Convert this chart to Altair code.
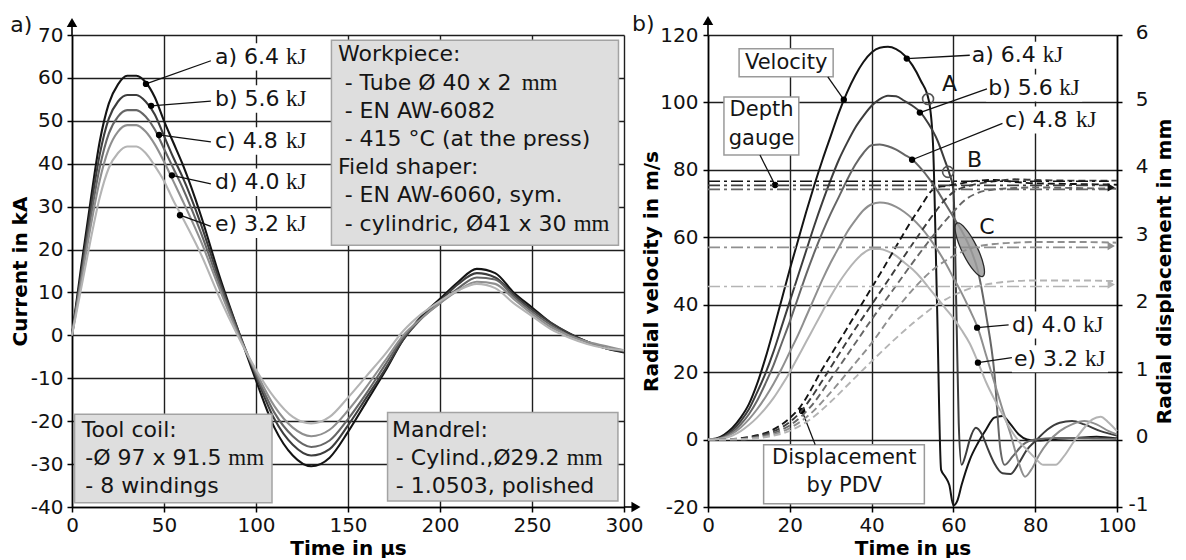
import altair as alt
import pandas as pd

FONT = "DejaVu Sans"
SERIF = "Liberation Serif"
SERIES = ["a", "b", "c", "d", "e"]
GREYS = ["#141414", "#3d3d3d", "#666666", "#8f8f8f", "#b4b4b4"]

# ---------------- panel a) : coil current (kA) vs time (us) ----------------
t_cur = [0, 5, 10, 15, 20, 25, 30, 35, 40, 45, 50, 55, 60, 70, 80, 90, 100, 110, 120, 130,
         140, 150, 160, 170, 180, 190, 200, 210, 220, 230, 240, 250, 260, 270, 280, 290, 300]
cur_a = [0, 16, 31, 45, 54, 58.5, 60.5, 60.5, 59, 55.5, 50, 45, 40, 28, 14, 1.5, -10.5, -21.5, -28, -30.5,
         -28.5, -22.5, -15.5, -8.5, -1, 4.5, 8.5, 12.5, 15.5, 14.5, 10, 6.5, 3, 0.5, -1.5, -3, -4]
cur_b = [0, 14.5, 29, 42, 50.5, 54.5, 56, 56, 54.5, 51.5, 46.5, 41.5, 37, 26, 13, 1.5, -9.5, -19.5, -25.5, -28,
         -26.5, -21, -14.5, -8, -1, 4, 8, 12, 14.5, 13.5, 9.5, 6, 3, 0.5, -1.5, -3, -3.8]
cur_c = [0, 13.5, 27, 39, 47, 51, 52.5, 52.5, 51, 48, 43.5, 39, 34.5, 24, 12, 1, -9, -18, -23.5, -26,
         -24.5, -19.5, -13.5, -7, -0.5, 4, 7.5, 11, 13.5, 13, 9, 5.5, 2.5, 0, -1.5, -3, -3.5]
cur_d = [0, 12.5, 25, 36, 43.5, 47.5, 49, 49, 47.5, 44.5, 40.5, 36, 31.5, 22, 11, 0.5, -8.5, -16.5, -21.5, -23.5,
         -22, -17.5, -12, -6, 0, 4, 7.5, 10.5, 12.5, 12, 8.5, 5, 2, 0, -1.5, -2.5, -3.5]
cur_e = [0, 11, 22, 32, 39, 42.5, 44, 44, 42.5, 39.5, 36, 31.5, 27.5, 19, 9, 0, -8, -14.5, -19, -20.5,
         -19, -14.5, -9.5, -4.5, 1, 5, 8, 10.5, 12, 11, 7.5, 4.5, 1.5, -0.5, -2, -3, -3.5]
CUR = {"a": cur_a, "b": cur_b, "c": cur_c, "d": cur_d, "e": cur_e}
ENERGY = ["a) 6.4", "b) 5.6", "c) 4.8", "d) 4.0", "e) 3.2"]
UNIT = ["kJ"] * 5

# ---------------- panel b) : radial velocity (m/s) ----------------
va_t = [0, 2, 4, 6, 8, 10, 12, 14, 16, 18, 20, 22, 24, 26, 28, 30, 32, 34, 36, 38, 40, 42, 44, 46, 48, 50, 52, 54,
        55, 56, 57, 58, 59, 60, 61, 62, 64, 66, 68, 70, 72, 74, 76, 78, 80, 85, 90, 95, 100]
va_v = [0, 0.3, 1.5, 3.5, 6.5, 10.5, 16.5, 24, 32.5, 41.5, 50.5, 59, 67.5, 75.5, 83, 90, 97, 103, 108, 112,
        114.8, 116.2, 116.5, 115.8, 114, 111, 106.5, 100.5,
        88, 40, -9, -11, -13.5, -19.5, -18, -13.5, -6, -1, 3, 6.5, 7, 4.5, 1.5, 0, -0.3, 0.2, 0.5, 0.8, 0.3]
vb_t = [0, 2, 4, 6, 8, 10, 12, 14, 16, 18, 20, 22, 24, 26, 28, 30, 32, 34, 36, 38, 40, 42, 44, 46, 48, 50, 52, 54,
        56, 58, 59, 60, 60.7, 61.3, 62, 63, 64, 65.5, 67, 68.5, 70, 72, 74, 76, 78, 80, 83, 86, 89, 92, 96, 100]
vb_v = [0, 0.2, 1, 2.8, 5.5, 9, 14, 19.5, 26, 33.5, 41, 48.5, 56, 63.5, 70.5, 77, 83, 88, 92.5, 96, 99, 101,
        102, 101.8, 100.5, 99, 97, 93.5, 89, 82.5,
        79, 74, 40, 5, -7.5, -4.5, 0, 3.5, 1.5, -3, -7, -10, -10.2, -7, -3, -0.5, 3, 5, 5.5, 4.5, 2.5, 1.2]
vc_t = [0, 2, 4, 6, 8, 10, 12, 14, 16, 18, 20, 22, 24, 26, 28, 30, 32, 34, 36, 38, 40, 42, 44, 46, 48, 50, 52, 54,
        56, 58, 60, 62, 64, 66, 68, 70, 71.5, 72.5, 74.5, 77, 80, 85, 90, 95, 100]
vc_v = [0, 0.2, 0.8, 2.2, 4.5, 7.5, 11.5, 16.5, 22, 28.5, 35, 42, 49, 55.5, 61.5, 67, 72, 77, 81.5, 85, 87.3,
        87.5, 87, 86, 84.5, 83, 80.5, 77.5, 74, 70, 66, 62, 57, 50, 37, 20,
        -3, -7.5, -5, -1.5, 0, 0.5, 0.5, 0.3, 0.2]
vd_t = [0, 2, 4, 6, 8, 10, 12, 14, 16, 18, 20, 22, 24, 26, 28, 30, 32, 34, 36, 38, 40, 42, 44, 46, 48, 50, 52, 54,
        56, 58, 60, 62, 64, 66, 68, 70, 72, 74, 76, 77.5, 79, 81, 83, 86, 89, 92, 95, 98, 100]
vd_v = [0, 0.1, 0.6, 1.8, 3.6, 6, 9, 12.5, 16.5, 21, 26, 31, 36.5, 42, 47.5, 52.5, 57, 61.5, 65, 68,
        69.8, 70.3, 70, 69, 67.5, 65.5, 63, 60, 56.5, 52.5, 48, 43.5, 38.5, 33, 25, 17, 9, 1.5, -7,
        -11, -9, -4.5, -1, 2.5, 4.5, 5.5, 4.5, 2.5, 1.5]
ve_t = [0, 2, 4, 6, 8, 10, 12, 14, 16, 18, 20, 22, 24, 26, 28, 30, 32, 34, 36, 38, 40, 42, 44, 46, 48, 50, 52, 54,
        56, 58, 60, 62, 64, 66, 68, 70, 72, 74, 76, 78, 80, 82, 85, 87, 89.5, 92, 94, 96, 98, 100]
ve_v = [0, 0.1, 0.4, 1.2, 2.5, 4.3, 6.5, 9.2, 12.3, 16, 20, 24.5, 29, 33.5, 38, 42.5, 46.5, 50, 53, 55.3,
        56.5, 56.5, 55.8, 54.5, 52.5, 50.5, 48, 45, 42, 39, 36, 32.5, 28.5, 23, 17, 12, 7.5, 3, -0.5,
        -3, -5.5, -7.5, -7.5, -5, -0.5, 3.5, 6, 6.8, 5, 2.5]
VEL_T = {"a": va_t, "b": vb_t, "c": vc_t, "d": vd_t, "e": ve_t}
VEL_V = {"a": va_v, "b": vb_v, "c": vc_v, "d": vd_v, "e": ve_v}

# ---------------- panel b) : radial displacement by PDV (mm) ----------------
da_t = [0, 5, 10, 15, 20, 22.5, 25, 27.5, 30, 32.5, 35, 37.5, 40, 42.5, 45, 47.5, 50, 52.5, 54.5, 56, 58, 62, 66,
        70, 75, 80, 90, 100]
da_d = [0, 0.005, 0.04, 0.12, 0.32, 0.48, 0.72, 1.0, 1.25, 1.5, 1.75, 2.0, 2.25, 2.5, 2.76, 3.02, 3.27, 3.5, 3.68,
        3.74, 3.76, 3.8, 3.84, 3.85, 3.82, 3.8, 3.79, 3.78]
db_t = [0, 5, 10, 15, 20, 22.5, 25, 27.5, 30, 35, 40, 45, 50, 55, 58, 60, 62, 65, 70, 75, 80, 90, 100]
db_d = [0, 0.004, 0.03, 0.1, 0.26, 0.4, 0.6, 0.83, 1.07, 1.55, 2.0, 2.45, 2.9, 3.33, 3.56, 3.67, 3.73, 3.78, 3.83,
        3.86, 3.85, 3.84, 3.84]
dc_t = [0, 5, 10, 15, 20, 25, 30, 35, 40, 45, 50, 55, 60, 63, 66, 70, 75, 80, 90, 100]
dc_d = [0, 0.003, 0.02, 0.08, 0.21, 0.48, 0.9, 1.34, 1.78, 2.2, 2.62, 3.02, 3.38, 3.56, 3.66, 3.71, 3.73, 3.74,
        3.73, 3.72]
dd_t = [0, 5, 10, 15, 20, 25, 30, 35, 40, 45, 50, 55, 60, 65, 70, 75, 80, 90, 100]
dd_d = [0, 0.002, 0.015, 0.06, 0.17, 0.38, 0.7, 1.06, 1.43, 1.85, 2.22, 2.52, 2.72, 2.85, 2.9, 2.92, 2.93, 2.93, 2.92]
de_t = [0, 5, 10, 15, 20, 25, 30, 35, 40, 45, 50, 55, 60, 65, 70, 75, 80, 90, 100]
de_d = [0, 0.002, 0.01, 0.045, 0.13, 0.3, 0.56, 0.86, 1.16, 1.45, 1.72, 1.96, 2.14, 2.26, 2.32, 2.35, 2.36, 2.36, 2.35]
DIS_T = {"a": da_t, "b": db_t, "c": dc_t, "d": dd_t, "e": de_t}
DIS_D = {"a": da_d, "b": db_d, "c": dc_d, "d": dd_d, "e": de_d}

# depth gauge final displacement (mm)
gauge_mm = [3.83, 3.77, 3.71, 2.85, 2.27]

# ---------------- text metrics (DejaVu Sans advance widths, em) ----------------
W = {" ": .318, "-": .361, ".": .318, ",": .318, "Ø": .787, "x": .592, "T": .611, "u": .634,
     "b": .635, "e": .615, "C": .698, "y": .592, "l": .278, "i": .278, "n": .634, "d": .635,
     "c": .550, "r": .411, "a": .613, ")": .390}
for ch in "0123456789":
    W[ch] = .636


def text_w(s, size):
    return sum(W.get(ch, 0.6) for ch in s) * size


def long_df(tdict, vdict, col):
    rows = []
    for s in SERIES:
        for i, (t, v) in enumerate(zip(tdict[s], vdict[s])):
            rows.append({"s": s, "i": i, "t": t, col: v})
    return pd.DataFrame(rows)


COLOR = alt.Color("s:N", scale=alt.Scale(domain=SERIES, range=GREYS), legend=None)
HYPHEN = "'' + datum.value"
LFS = 22   # annotation font size
BFS = 22   # box font size
TXT = dict(baseline="middle", font=FONT, fontSize=LFS, color="#151515")
KJ_DX = round(text_w("a) 6.4 ", LFS))

# ======================= LEFT PANEL =======================
sx1 = alt.Scale(domain=[0, 300], nice=False, zero=False)
sy1 = alt.Scale(domain=[-40, 70], nice=False, zero=False)
X1 = alt.X("t:Q", scale=sx1, axis=alt.Axis(values=list(range(0, 301, 50)), title="Time in µs",
                                           titlePadding=3, labelPadding=3))
Y1 = alt.Y("v:Q", scale=sy1, axis=alt.Axis(values=list(range(-40, 71, 10)), title="Current in kA",
                                           titlePadding=0, labelPadding=4, labelExpr=HYPHEN))

cur_df = long_df({s: t_cur for s in SERIES}, CUR, "v")
cur_lines = alt.Chart(cur_df).mark_line(strokeWidth=2.1, interpolate="monotone").encode(
    x=X1, y=Y1, color=COLOR, order="i:Q")

box1 = pd.DataFrame({"t": [141, 1.4, 171.5], "t2": [297, 108.7, 296.7],
                     "v": [68.8, -18.4, -18.0], "v2": [21.0, -39.0, -38.6]})
box1_l = alt.Chart(box1).mark_rect(fill="#dedede", stroke="#a3a3a3", strokeWidth=1.5).encode(
    x=X1, x2=alt.X2("t2"), y=Y1, y2=alt.Y2("v2"))

# (sans text, serif unit) per line
wp_lines = [("Workpiece:", ""), ("- Tube Ø 40 x 2 ", "mm"), ("- EN AW-6082", ""),
            ("- 415 °C (at the press)", ""), ("Field shaper:", ""), ("- EN AW-6060, sym.", ""),
            ("- cylindric, Ø41 x 30 ", "mm")]
wp_t = [144.6, 148.2, 148.2, 148.2, 144.6, 148.2, 148.2]
wp_v = [65.6, 58.7, 52.3, 45.8, 39.2, 32.6, 26.0]
tc_lines = [("Tool coil:", ""), ("-Ø 97 x 91.5 ", "mm"), ("- 8 windings", "")]
tc_t = [5.3, 7.2, 7.2]
md_lines = [("Mandrel:", ""), ("- Cylind.,Ø29.2 ", "mm"), ("- 1.0503, polished", "")]
md_t = [173.9, 176.0, 176.0]
low_v = [-22.0, -28.6, -35.2]
all_lines = wp_lines + tc_lines + md_lines
box1_text = pd.DataFrame({"t": wp_t + tc_t + md_t, "v": wp_v + low_v + low_v,
                          "label": [a for a, b in all_lines]})
box1_t = alt.Chart(box1_text).mark_text(align="left", baseline="middle", font=FONT, fontSize=BFS,
                                        color="#151515").encode(x=X1, y=Y1, text="label:N")
unit_layers = []
for (a, b), t, v in zip(all_lines, wp_t + tc_t + md_t, wp_v + low_v + low_v):
    if b:
        unit_layers.append(
            alt.Chart(pd.DataFrame({"t": [t], "v": [v], "label": [b]})).mark_text(
                align="left", baseline="middle", font=SERIF, fontSize=BFS + 1, color="#151515",
                dx=round(text_w(a, BFS))).encode(x=X1, y=Y1, text="label:N"))

lab1_v = [64.9, 55.1, 45.3, 35.7, 25.9]
lab1 = pd.DataFrame({"t": [77.7] * 5, "v": lab1_v, "label": ENERGY, "unit": UNIT,
                     "t2": [128.0] * 5, "vb": [v - 3.2 for v in lab1_v], "vt": [v + 3.2 for v in lab1_v],
                     "dt": [40.2, 43.0, 47.3, 54.3, 58.7], "dv": [58.6, 53.5, 46.7, 37.3, 28.0],
                     "et": [75.5] * 5, "ev": [64.0, 54.6, 45.1, 35.3, 25.4]})
lab1_bg = alt.Chart(lab1).mark_rect(fill="white").encode(
    x=alt.X("t:Q", scale=sx1), x2=alt.X2("t2"), y=alt.Y("vb:Q", scale=sy1), y2=alt.Y2("vt"))
lab1_rule = alt.Chart(lab1).mark_rule(color="#111", strokeWidth=1.3).encode(
    x=alt.X("dt:Q", scale=sx1), x2=alt.X2("et"), y=alt.Y("dv:Q", scale=sy1), y2=alt.Y2("ev"))
lab1_dot = alt.Chart(lab1).mark_point(filled=True, color="#000", size=40, opacity=1).encode(
    x=alt.X("dt:Q", scale=sx1), y=alt.Y("dv:Q", scale=sy1))
lab1_txt = alt.Chart(lab1).mark_text(align="left", **TXT).encode(x=X1, y=Y1, text="label:N")
lab1_kj = alt.Chart(lab1).mark_text(align="left", baseline="middle", font=SERIF, fontSize=LFS + 1,
                                    color="#151515", dx=KJ_DX).encode(x=X1, y=Y1, text="unit:N")

# axis arrows + panel letter
arr1 = pd.DataFrame({"t": [0, 306.5], "v": [72.9, -40], "shape": ["triangle-up", "triangle-right"]})
arr1_l = alt.Chart(arr1).mark_point(filled=True, color="#000", size=110, opacity=1).encode(
    x=X1, y=Y1, shape=alt.Shape("shape:N", scale=None))
ext1 = pd.DataFrame({"t": [0, 300], "t2": [0, 305], "v": [70, -40], "v2": [72, -40]})
ext1_l = alt.Chart(ext1).mark_rule(color="#000", strokeWidth=1.6).encode(
    x=X1, x2=alt.X2("t2"), y=Y1, y2=alt.Y2("v2"))
let1 = alt.Chart(pd.DataFrame({"t": [-33.5], "v": [72.3], "label": ["a)"]})).mark_text(
    align="left", **TXT).encode(x=X1, y=Y1, text="label:N")

left = alt.layer(cur_lines, box1_l, box1_t, *unit_layers, lab1_bg, lab1_rule, lab1_dot, lab1_txt,
                 lab1_kj, ext1_l, arr1_l, let1).properties(width=552, height=472)

# ======================= RIGHT PANEL =======================
sx2 = alt.Scale(domain=[0, 100], nice=False, zero=False)
sy2 = alt.Scale(domain=[-20, 120], nice=False, zero=False)
sy3 = alt.Scale(domain=[-1, 6], nice=False, zero=False)
X2 = alt.X("t:Q", scale=sx2, axis=alt.Axis(values=list(range(0, 101, 20)), title="Time in µs",
                                           titlePadding=3, labelPadding=3))
Y2 = alt.Y("v:Q", scale=sy2, axis=alt.Axis(values=list(range(-20, 121, 10)), title="Radial velocity  in m/s",
                                           titlePadding=-2, labelPadding=5, labelExpr=HYPHEN))
Y3 = alt.Y("d:Q", scale=sy3, axis=alt.Axis(values=list(range(-1, 7)), orient="right", grid=False,
                                           title="Radial displacement in mm", titleAngle=270,
                                           titleBaseline="top", labelAlign="right", labelPadding=26,
                                           labelOffset=-3, titlePadding=6, labelExpr=HYPHEN))

vel_df = long_df(VEL_T, VEL_V, "v")
vel_lines = alt.Chart(vel_df).mark_line(strokeWidth=2, interpolate="monotone").encode(
    x=X2, y=Y2, color=COLOR, order="i:Q")

box2 = pd.DataFrame({"t": [7.6, 3.9, 13.6], "t2": [30.6, 22.2, 52.9], "v": [107.6, 84.4, -1.5],
                     "v2": [115.9, 101.6, -19.0]})
box2_l = alt.Chart(box2).mark_rect(fill="white", stroke="#9a9a9a", strokeWidth=1.5).encode(
    x=X2, x2=alt.X2("t2"), y=Y2, y2=alt.Y2("v2"))
box2_text = pd.DataFrame({"t": [19.1, 13.1, 13.1, 33.3, 33.3], "v": [111.7, 97.8, 89.2, -5.6, -13.9],
                          "label": ["Velocity", "Depth", "gauge", "Displacement", "by PDV"]})
box2_t = alt.Chart(box2_text).mark_text(align="center", baseline="middle", font=FONT, fontSize=21,
                                        color="#151515").encode(x=X2, y=Y2, text="label:N")

ptr2 = pd.DataFrame({"t": [29.3, 12.7, 26.2], "v": [107.6, 84.4, -1.5],
                     "t2": [33.2, 16.4, 23.0], "v2": [100.8, 75.5, 8.5]})
ptr2_rule = alt.Chart(ptr2).mark_rule(color="#111", strokeWidth=1.3).encode(
    x=X2, x2=alt.X2("t2"), y=Y2, y2=alt.Y2("v2"))
ptr2_dot = alt.Chart(ptr2).mark_point(filled=True, color="#000", size=40, opacity=1).encode(
    x=alt.X("t2:Q", scale=sx2), y=alt.Y("v2:Q", scale=sy2))

lab2_t = [64.5, 68.5, 72.6, 74.3, 74.8]
lab2_v = [114.0, 104.3, 94.8, 34.0, 24.0]
lab2 = pd.DataFrame({"t": lab2_t, "v": lab2_v, "label": ENERGY, "unit": UNIT,
                     "bt": [t - 0.5 for t in lab2_t], "bt2": [t + 23.0 for t in lab2_t],
                     "vb": [v - 4.0 for v in lab2_v], "vt": [v + 4.0 for v in lab2_v],
                     "dt": [48.6, 51.8, 49.9, 65.8, 66.0], "dv": [113.0, 97.0, 83.0, 33.2, 22.8],
                     "et": [64.0, 68.2, 72.0, 73.5, 74.3], "ev": [114.0, 104.0, 93.8, 34.0, 24.3]})
lab2_bg = alt.Chart(lab2).mark_rect(fill="white").encode(
    x=alt.X("bt:Q", scale=sx2), x2=alt.X2("bt2"), y=alt.Y("vb:Q", scale=sy2), y2=alt.Y2("vt"))
lab2_rule = alt.Chart(lab2).mark_rule(color="#111", strokeWidth=1.3).encode(
    x=alt.X("dt:Q", scale=sx2), x2=alt.X2("et"), y=alt.Y("dv:Q", scale=sy2), y2=alt.Y2("ev"))
lab2_dot = alt.Chart(lab2).mark_point(filled=True, color="#000", size=40, opacity=1).encode(
    x=alt.X("dt:Q", scale=sx2), y=alt.Y("dv:Q", scale=sy2))
lab2_txt = alt.Chart(lab2).mark_text(align="left", **TXT).encode(x=X2, y=Y2, text="label:N")
lab2_kj = alt.Chart(lab2).mark_text(align="left", baseline="middle", font=SERIF, fontSize=LFS + 1,
                                    color="#151515", dx=KJ_DX).encode(x=X2, y=Y2, text="unit:N")

circ = pd.DataFrame({"t": [53.8, 58.7], "v": [101.0, 79.4]})
circ_l = alt.Chart(circ).mark_point(shape="circle", filled=False, color="#555", size=120,
                                    strokeWidth=1.6, opacity=1).encode(x=X2, y=Y2)
abc = pd.DataFrame({"t": [57.2, 63.3, 66.3], "v": [105.5, 83.0, 63.0], "label": ["A", "B", "C"]})
abc_t = alt.Chart(abc).mark_text(align="left", **TXT).encode(x=X2, y=Y2, text="label:N")

ELLIPSE = "M0,-1 A0.26,1 0 1,1 0,1 A0.26,1 0 1,1 0,-1 Z"
ell = alt.Chart(pd.DataFrame({"t": [64.0], "v": [56.3]})).mark_point(
    shape=ELLIPSE, size=3500, angle=334, filled=True, fill="#9c9c9c", fillOpacity=0.85,
    stroke="#2a2a2a", strokeWidth=1.3, opacity=1).encode(x=X2, y=Y2)

ext2 = pd.DataFrame({"t": [0], "t2": [0], "v": [120], "v2": [123]})
ext2_l = alt.Chart(ext2).mark_rule(color="#000", strokeWidth=1.6).encode(
    x=X2, x2=alt.X2("t2"), y=Y2, y2=alt.Y2("v2"))
arr2_l = alt.Chart(pd.DataFrame({"t": [0], "v": [124.3]})).mark_point(
    shape="triangle-up", filled=True, color="#000", size=110, opacity=1).encode(x=X2, y=Y2)
let2 = alt.Chart(pd.DataFrame({"t": [-18.6], "v": [123.3], "label": ["b)"]})).mark_text(
    align="left", **TXT).encode(x=X2, y=Y2, text="label:N")

group_v = alt.layer(vel_lines, box2_l, box2_t, ptr2_rule, ptr2_dot, lab2_bg, lab2_rule, lab2_dot,
                    lab2_txt, lab2_kj, circ_l, abc_t, ell, ext2_l, arr2_l, let2)

dis_df = long_df(DIS_T, DIS_D, "d")
dis_lines = alt.Chart(dis_df).mark_line(strokeWidth=1.9, strokeDash=[7, 4], interpolate="monotone").encode(
    x=X2, y=Y3, color=COLOR, order="i:Q")
gauge = pd.DataFrame({"s": SERIES, "t": [0] * 5, "t2": [98] * 5, "d": gauge_mm})
gauge_l = alt.Chart(gauge).mark_rule(strokeWidth=1.6, strokeDash=[12, 4, 3, 4]).encode(
    x=X2, x2=alt.X2("t2"), y=Y3, color=COLOR)
heads = pd.DataFrame({"s": ["a", "d", "e"], "t": [98.6, 98.6, 98.6], "d": [3.74, 2.87, 2.3]})
heads_l = alt.Chart(heads).mark_point(shape="triangle-right", filled=True, size=70, opacity=1).encode(
    x=X2, y=Y3, color=COLOR)
group_d = alt.layer(dis_lines, gauge_l, heads_l)

right = alt.layer(group_v, group_d).resolve_scale(y="independent").properties(width=409, height=472)

chart = alt.hconcat(left, right, spacing=84, bounds="flush").properties(
    padding={"left": 2, "top": 4, "right": 0, "bottom": 0}
).configure_view(stroke=None).configure_axis(
    domainColor="#000", domainWidth=1.6, tickColor="#000", tickWidth=1.5, tickSize=5,
    gridColor="#1e1e1e", gridWidth=1.4, labelFont=FONT, labelFontSize=20, labelColor="#111",
    labelFlush=False, labelOverlap=False, titleFont=FONT, titleFontSize=20,
    titleFontWeight="bold", titleColor="#000"
)

chart.save("out.html", embed_options={"renderer": "svg", "actions": False})
